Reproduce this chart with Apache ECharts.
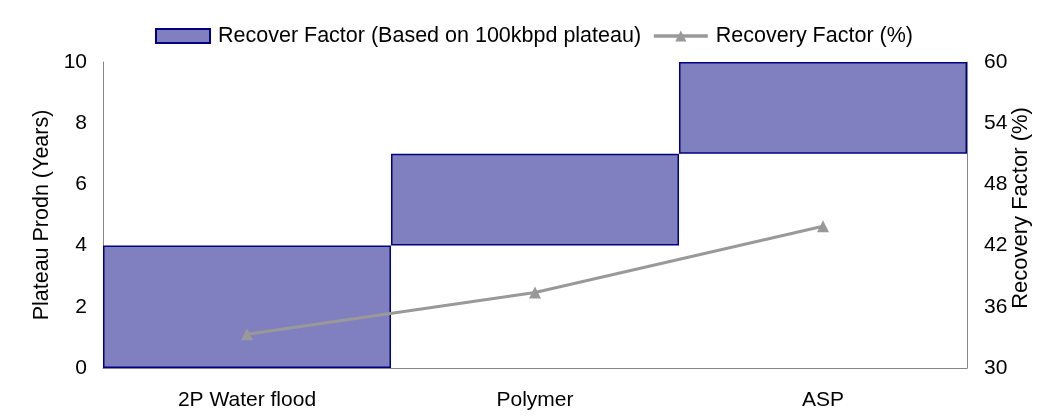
<!DOCTYPE html>
<html>
<head>
<meta charset="utf-8">
<script src="https://cdn.jsdelivr.net/npm/echarts@6/dist/echarts.min.js"></script>
<style>html,body{margin:0;padding:0;background:#fff}#c{width:1049px;height:416px}</style>
</head>
<body>
<div id="c"></div>
<script>
const categories = ['2P Water flood', 'Polymer', 'ASP'];
const plateauStart = [0, 4, 7];
const plateauEnd = [4, 7, 10];
const recoveryFactor = [33.3, 37.4, 43.9];
const leftTicks = [0, 10, 2];
const rightTicks = [30, 60, 6];

const plateauLength = plateauEnd.map((v, i) => v - plateauStart[i]);
const font = 'Liberation Sans, Arial, sans-serif';
const fs = 21;
const chart = echarts.init(document.getElementById('c'));
chart.setOption({
  animation: false,
  textStyle: { fontFamily: font },
  legend: {
    top: 20,
    left: 150,
    itemWidth: 54,
    itemHeight: 14,
    itemGap: 11,
    textStyle: { fontFamily: font, fontSize: 21.5, color: '#000', padding: [0, 0, 0, 3] },
    data: [
      { name: 'Recover Factor (Based on 100kbpd plateau)', icon: 'rect' },
      { name: 'Recovery Factor (%)', lineStyle: { width: 3.5, color: '#999999' } }
    ]
  },
  grid: { left: 103, right: 82, top: 62, bottom: 48 },
  xAxis: {
    type: 'category',
    data: categories,
    boundaryGap: true,
    axisLine: { lineStyle: { color: '#868686', width: 1 } },
    axisTick: { show: false },
    axisLabel: { color: '#000', fontSize: fs, fontFamily: font, margin: 22 }
  },
  yAxis: [
    {
      type: 'value', min: leftTicks[0], max: leftTicks[1], interval: leftTicks[2],
      name: 'Plateau Prodn (Years)', nameLocation: 'middle', nameGap: 50, nameRotate: 90,
      nameMoveOverlap: false,
      nameTextStyle: { color: '#000', fontSize: 21.5, fontFamily: font },
      axisLine: { show: true, lineStyle: { color: '#868686' } },
      axisTick: { show: false },
      splitLine: { show: false },
      axisLabel: { color: '#000', fontSize: fs, fontFamily: font, margin: 16 }
    },
    {
      type: 'value', min: rightTicks[0], max: rightTicks[1], interval: rightTicks[2],
      position: 'right',
      name: 'Recovery Factor (%)', nameLocation: 'middle', nameGap: 43, nameRotate: 90,
      nameMoveOverlap: false,
      nameTextStyle: { color: '#000', fontSize: 22, fontFamily: font, padding: [0, 0, 0, 14] },
      axisLine: { show: true, lineStyle: { color: '#868686' } },
      axisTick: { show: false },
      splitLine: { show: false },
      axisLabel: { color: '#000', fontSize: fs, fontFamily: font, margin: 17 }
    }
  ],
  series: [
    {
      name: 'base', type: 'bar', stack: 'p', barWidth: '100%',
      data: plateauStart, itemStyle: { color: 'transparent' },
      silent: true, legendHoverLink: false
    },
    {
      name: 'Recover Factor (Based on 100kbpd plateau)', type: 'bar', stack: 'p', barWidth: '100%',
      data: plateauLength,
      itemStyle: { color: '#8080C0', borderColor: '#000080', borderWidth: 1.5 }
    },
    {
      name: 'Recovery Factor (%)', type: 'line', yAxisIndex: 1, z: 5,
      data: recoveryFactor,
      symbol: 'triangle', symbolSize: 12,
      lineStyle: { color: '#999999', width: 3 },
      itemStyle: { color: '#999999' }
    }
  ]
});
</script>
</body>
</html>
